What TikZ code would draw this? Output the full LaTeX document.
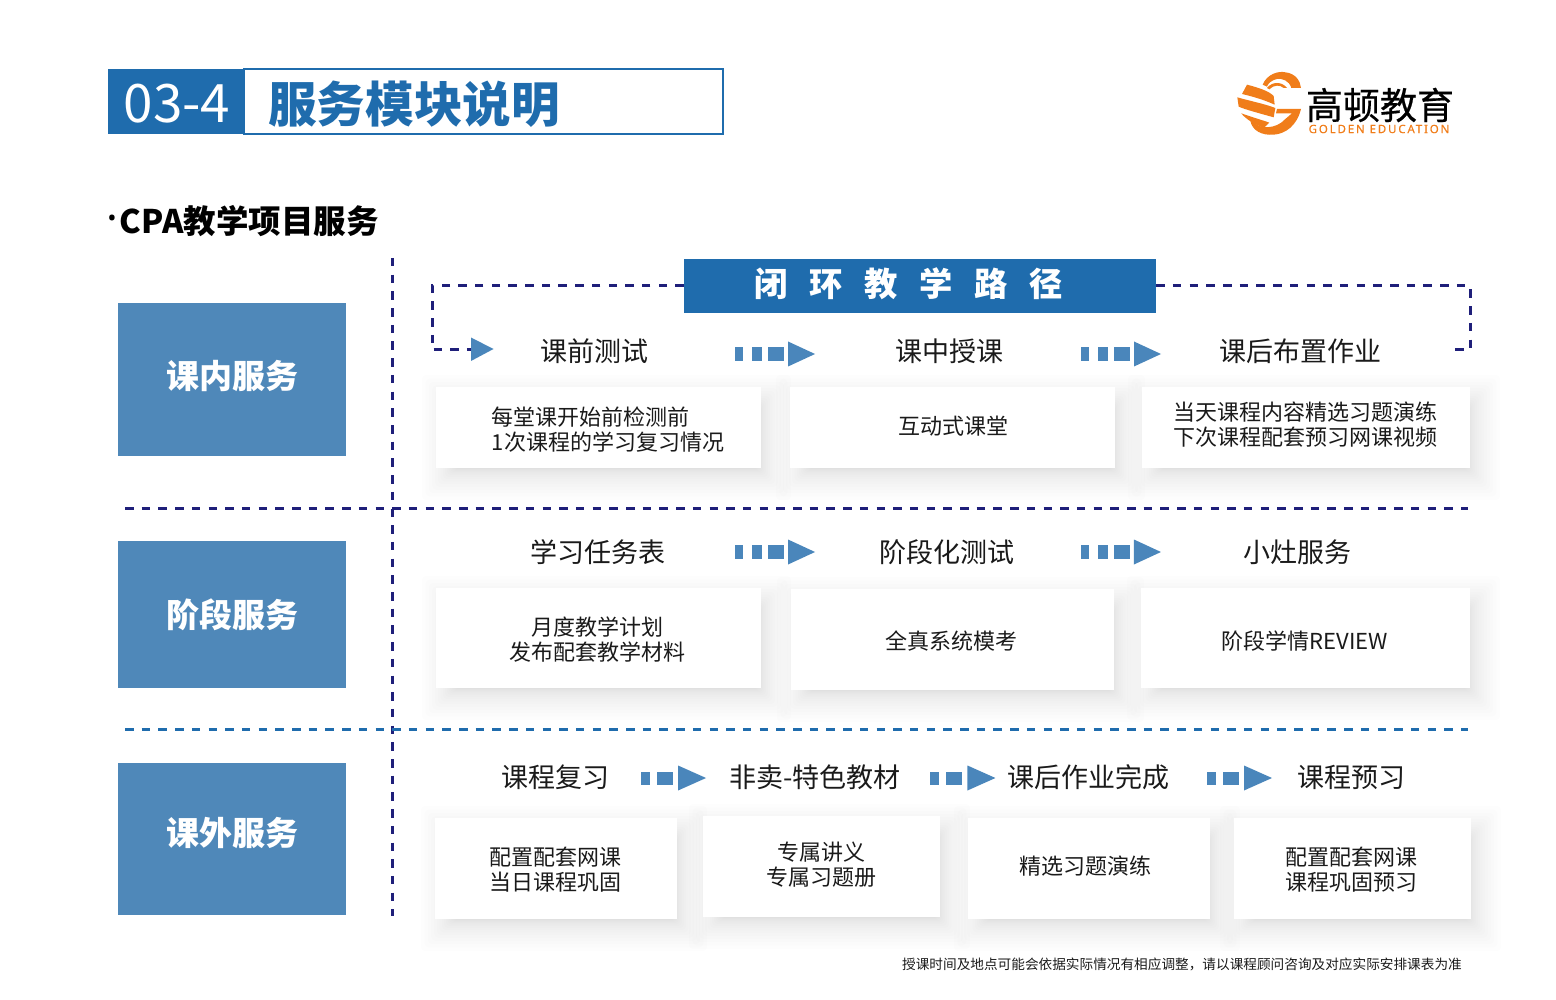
\documentclass[tikz,border=0pt]{standalone}
\usepackage{fontspec}
\setmainfont{Noto Sans CJK SC}
\newfontfamily\logofont[LetterSpace=16,FakeBold=.4]{Noto Sans}
\newfontfamily\dotfont{Noto Sans}
\newfontfamily\logocjk[FakeBold=.5]{Noto Sans CJK SC}
\usetikzlibrary{calc,positioning}
\definecolor{headblue}{HTML}{1F6CAD}
\definecolor{sideblue}{HTML}{4F88B9}
\definecolor{flowblue}{HTML}{4A86BB}
\definecolor{loopnavy}{HTML}{1F1F7A}
\definecolor{logoorange}{HTML}{F07D1A}
\definecolor{inktext}{HTML}{1A1A1A}
\newcommand{\fs}[2]{\fontsize{#1}{#2}\selectfont}
\newcommand{\cardlist}{
  c11/436/387/761/468/608/430/left/{每堂课开始前检测前\\1次课程的学习复习情况},
  c12/790/387/1115/468/953/426/center/{互动式课堂},
  c13/1142/387/1470/468/1305/425/center/{当天课程内容精选习题演练\\下次课程配套预习网课视频},
  c21/436/588/761/688/597/640/center/{月度教学计划\\发布配套教学材料},
  c22/791/589/1114/690/951/641/center/{全真系统模考},
  c23/1141/588/1470/688/1305/641/center/{阶段学情REVIEW},
  c31/435/818/677/919/555/870/center/{配置配套网课\\当日课程巩固},
  c32/703/816/940/917/821/865/center/{专属讲义\\专属习题册},
  c33/968/818/1210/919/1085/866.5/center/{精选习题演练},
  c34/1234/818/1471/919/1351/870/center/{配置配套网课\\课程巩固预习}}
\tikzset{
  sidebox/.style={fill=sideblue,minimum width=228pt,inner sep=0pt},
  sidetext/.style={text=white,inner sep=0pt,font=\fs{33}{36}\bfseries},
  headtext/.style={text=inktext,inner sep=0pt,font=\fs{27}{30}},
  cardbox/.style={fill=white,inner sep=0pt},
  cardtext/.style={text=inktext,inner sep=0pt,font=\fs{22}{25}},
  navydash/.style={draw=loopnavy,line width=3pt,dash pattern=on 8.5pt off 8.2pt},
  bluedash/.style={draw=headblue,line width=3pt,dash pattern=on 8.5pt off 8.2pt},
  blocksthree/.pic={
    \fill[flowblue] (-40,-7) rectangle (-32,7);
    \fill[flowblue] (-23,-7) rectangle (-13,7);
    \fill[flowblue] (-7,-7) rectangle (9,7);
    \fill[flowblue] (13,-12.5) -- (40,0) -- (13,12.5) -- cycle;
  },
  blockstwo/.pic={
    \fill[flowblue] (-32.5,-6.5) rectangle (-23.5,6.5);
    \fill[flowblue] (-16.5,-6.5) rectangle (-.5,6.5);
    \fill[flowblue] (4.5,-12.5) -- (32.5,0) -- (4.5,12.5) -- cycle;
  }
}

\begin{document}
\begin{tikzpicture}[x=1pt,y=-1pt]
  \useasboundingbox (0,0) rectangle (1556,1000);
  % header
  \node[fill=headblue,minimum width=136pt,minimum height=65pt,inner sep=0pt] (numB) at (176,101.5) {};
  \node[draw=headblue,line width=2pt,minimum width=479pt,minimum height=65pt,inner sep=0pt] (titleB) at (483.5,101.5) {};
  \node[text=white,inner sep=0pt,font=\fs{53}{56}] (numT) at (177,104) {03-4};
  \node[text=headblue,inner sep=0pt,font=\fs{48.6}{52}\bfseries,anchor=west] (titleT) at (268,104) {服务模块说明};
  \node[anchor=west,inner sep=0pt,text=black,font=\fs{32.5}{36}\bfseries] (subT) at (106,221.5) {{\dotfont\fs{44}{44}\bfseries ·}\kern2pt CPA教学项目服务};
  % logo
  \begin{scope}[shift={(1232,64)},x=.3333pt,y=-.3333pt]
    \fill[logoorange] (92,62) .. controls (105,30) and (140,20) .. (160,25) .. controls (190,28) and (205,50) .. (207,72) -- (178,72) .. controls (172,50) and (150,42) .. (135,45) .. controls (120,48) and (108,58) .. (105,68) -- cycle;
    \fill[logoorange] (105,72) .. controls (120,52) and (150,52) .. (165,72) -- (155,72) .. controls (145,62) and (125,62) .. (112,76) -- cycle;
    \fill[logoorange] (45,62) .. controls (75,70) and (110,80) .. (125,96) -- (128,122) .. controls (95,107) and (60,97) .. (30,90) -- cycle;
    \fill[logoorange] (16,100) .. controls (50,110) and (100,120) .. (130,132) -- (125,160) .. controls (90,150) and (40,137) .. (20,128) -- cycle;
    \fill[logoorange] (28,148) .. controls (55,158) and (90,168) .. (112,176) -- (95,192) .. controls (70,182) and (40,165) .. (28,148) -- cycle;
    \fill[logoorange] (135,135) -- (207,135) .. controls (195,185) and (160,210) .. (125,212) .. controls (90,215) and (60,200) .. (55,170) -- (72,180) .. controls (85,192) and (130,198) .. (160,165) -- (180,148) -- (132,148) -- cycle;
  \end{scope}
  \node[inner sep=0pt,text=black,font=\logocjk\fs{37}{40}] (logoT) at (1380,105) {高顿教育};
  \node[inner sep=0pt,text=logoorange,font=\logofont\fs{11.5}{12}] (logoE) at (1379,129) {GOLDEN EDUCATION};
  % cards (shadow)
  \foreach \nm/\xa/\ya/\xb/\yb/\tx/\ty/\al/\txt in \cardlist {
    \foreach \i in {1,...,18} {
      \pgfmathsetmacro{\rr}{-10+36*(1-\i/18)^2}
      \fill[black,opacity=.008,rounded corners=4pt] ({\xa+8-\rr},{\ya+10-\rr}) rectangle ({\xb+8+\rr},{\yb+10+\rr});
    }
  }
  % separators
  \draw[navydash] (392,258) -- (392,916);
  \draw[navydash] (125,508) -- (1468,508);
  \draw[bluedash] (125,729) -- (1468,729);
  % left column
  \foreach \nm/\cy/\h/\ty/\txt in {sideA/379.5/153/376/课内服务,sideB/614.5/147/615/阶段服务,sideC/839/152/833/课外服务} {
    \node[sidebox,minimum height=\h pt] (\nm) at (232,\cy) {};
    \node[sidetext] (\nm t) at (232,\ty) {\txt};
  }
  % closed loop
  \node[fill=headblue,minimum width=472pt,minimum height=54pt,inner sep=0pt] (loopB) at (920,286) {};
  \node[text=white,inner sep=0pt,font=\fs{33.3}{36}\bfseries] (loopT) at (909,284) {\spaceskip=21.7pt\relax 闭 环 教 学 路 径};
  \coordinate (loopL) at (432,350);
  \coordinate (loopIn) at (472,350);
  \coordinate (loopR) at (1470,350);
  \coordinate (loopOut) at (1454,350);
  \draw[navydash] (loopB.west) -| (loopL) -- (loopIn);
  \draw[navydash] (loopB.east) -| (loopR) -- (loopOut);
  \fill[flowblue] (471,337.5) -- (493.5,349) -- (471,361) -- cycle;
  % headings
  \foreach \nm/\x/\y/\txt in {h11/594/351/课前测试,h12/949/351/课中授课,h13/1300/351/课后布置作业,
    h21/597.5/552/学习任务表,h22/947/552/阶段化测试,h23/1297/552/小灶服务,
    h31/555/777/课程复习,h32/815/777/非卖-特色教材,h33/1088/777/课后作业完成,h34/1351/777/课程预习} {
    \node[headtext] (\nm) at (\x,\y) {\txt};
  }
  \foreach \a/\b/\p/\s in {h11/h12/.51/3,h12/h13/.49/3,h21/h22/.508/0,h22/h23/.497/0} {
    \path (\a.center) -- (\b.center) pic[pos=\p,yshift=-\s pt] {blocksthree};
  }
  \foreach \a/\b/\p in {h31/h32/.456,h32/h33/.542,h33/h34/.576} {
    \path (\a.center) -- (\b.center) pic[pos=\p,yshift=-1pt] {blockstwo};
  }
  % cards
  \foreach \nm/\xa/\ya/\xb/\yb/\tx/\ty/\al/\txt in \cardlist {
    \node[cardbox,minimum width={(\xb-\xa)*1pt},minimum height={(\yb-\ya)*1pt}] (\nm) at ({(\xa+\xb)/2},{(\ya+\yb)/2}) {};
    \node[cardtext,align=\al] (\nm t) at (\tx,\ty) {\txt};
  }
  \node[anchor=east,inner sep=0pt,text=inktext,font=\fs{13.65}{16}] (noteT) at (1462,964) {授课时间及地点可能会依据实际情况有相应调整，请以课程顾问咨询及对应实际安排课表为准};
\end{tikzpicture}
\end{document}
